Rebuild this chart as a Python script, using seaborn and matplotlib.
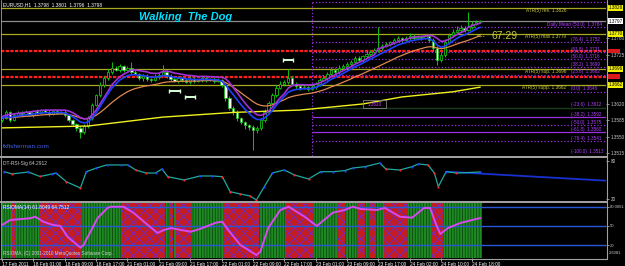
import numpy as np
import pandas as pd
import matplotlib
matplotlib.use("Agg")
import matplotlib.pyplot as plt
import seaborn as sns
from matplotlib.patches import Rectangle

sns.set_theme(style="dark", rc={"axes.facecolor": "black", "figure.facecolor": "black"})
plt.rcParams["font.family"] = ["Liberation Sans", "DejaVu Sans"]
plt.rcParams["hatch.linewidth"] = 0.6

# ------------------------------------------------------------------ data
closes = [
    1.3590, 1.3603, 1.3586, 1.3597, 1.3601,
    1.3599, 1.3603, 1.3597, 1.3605, 1.3601, 1.3607, 1.3603, 1.3599, 1.3605, 1.3601, 1.3603,
    1.3597, 1.3586, 1.3577,
    1.3569, 1.3560, 1.3573,
    1.3590, 1.3618, 1.3639, 1.3661,
    1.3675, 1.3688, 1.3697, 1.3693, 1.3701, 1.3693, 1.3697, 1.3688,
    1.3684, 1.3675, 1.3680, 1.3673, 1.3671, 1.3678, 1.3682, 1.3688, 1.3680, 1.3673, 1.3669,
    1.3675, 1.3671, 1.3667, 1.3673, 1.3669, 1.3671, 1.3675, 1.3671, 1.3673, 1.3669, 1.3671,
    1.3661, 1.3633, 1.3612,
    1.3603, 1.3590, 1.3582, 1.3575, 1.3571,
    1.3564, 1.3569, 1.3586,
    1.3603, 1.3622, 1.3639, 1.3654, 1.3663,
    1.3667, 1.3675, 1.3663,
    1.3658, 1.3654, 1.3656, 1.3652, 1.3656,
    1.3663, 1.3671, 1.3675, 1.3684, 1.3693, 1.3688, 1.3697, 1.3701,
    1.3705, 1.3710, 1.3718, 1.3714, 1.3722, 1.3727, 1.3731, 1.3735, 1.3740,
    1.3744, 1.3748, 1.3752, 1.3757, 1.3761, 1.3757,
    1.3761, 1.3765, 1.3761, 1.3763, 1.3761, 1.3765,
    1.3757, 1.3740, 1.3714,
    1.3725, 1.3752, 1.3767,
    1.3774, 1.3778, 1.3782, 1.3778, 1.3784,
    1.3791, 1.3795, 1.3797,
]
first_open = 1.3586
# wick lengths in pips (0.0001)
wick_up = [3, 4, 2, 3, 5, 3, 4, 2, 3, 4,
           3, 2, 4, 3, 2, 3, 4, 2, 3, 2,
           3, 4, 5, 4, 3, 5, 4, 6, 13, 4,
           5, 3, 4, 13, 4, 3, 5, 4, 3, 6,
           4, 15, 5, 3, 4, 5, 3, 4, 6, 4,
           3, 5, 4, 3, 4, 5, 3, 4, 5, 3,
           4, 3, 2, 3, 4, 5, 4, 6, 5, 4,
           6, 5, 4, 20, 4, 3, 5, 4, 3, 6,
           4, 5, 6, 4, 5, 3, 6, 4, 5, 4,
           5, 4, 3, 6, 4, 5, 44, 4, 5, 3,
           4, 5, 3, 4, 6, 4, 5, 3, 4, 5,
           4, 3, 5, 6, 4, 5, 8, 6, 5, 32,
           6, 5, 3]
wick_dn = [4, 3, 5, 2, 3, 4, 3, 2, 4, 3,
           2, 3, 4, 3, 2, 3, 4, 5, 4, 6,
           13, 5, 4, 5, 3, 4, 5, 3, 4, 3,
           4, 5, 3, 4, 3, 4, 5, 3, 4, 3,
           4, 3, 5, 4, 3, 4, 5, 3, 4, 5,
           3, 4, 5, 3, 4, 3, 4, 6, 5, 7,
           6, 5, 8, 6, 42, 6, 5, 4, 5, 3,
           4, 3, 5, 4, 3, 5, 4, 3, 4, 3,
           5, 4, 3, 4, 5, 3, 4, 5, 3, 4,
           3, 4, 5, 3, 4, 3, 4, 5, 3, 4,
           5, 3, 4, 3, 4, 5, 3, 4, 3, 5,
           6, 11, 5, 4, 3, 4, 3, 4, 5, 3,
           4, 3, 2]

ma200_bars = [0, 22, 41, 59, 76, 92, 102, 115, 122]
ma200_vals = [1.3569, 1.3573, 1.3592, 1.3602, 1.3607, 1.3620, 1.3635, 1.3646, 1.3656]

fractal_bars = [44, 48, 73]
fractal_prices = [1.3648, 1.3635, 1.3714]

olive_levels = [1.3825, 1.3770, 1.3695, 1.3661]
olive_labels = ["ATR(5) res. 1.3826", "ATR(5) max 1.3770", "ATR(5) sup. 1.3696", "ATR(5) supp. 1.3662"]
olive_boxes = ["1.3826", "1.3770", "1.3696", "1.3662"]
red_levels = [1.3733, 1.3678]
current_price = 1.3797

day_start_bar = 79
daily_mean_price = 1.3784
daily_mean_label = "Daily Mean (50.0)  1.3784"
fib_prices = [1.3838, 1.3752, 1.3731, 1.3716, 1.3699, 1.3682, 1.3646, 1.3592, 1.3575, 1.3560, 1.3541]
fib_styles = [":", ":", ":", ":", ":", ":", ":", "-", ":", "-", ":"]
fib_labels = ["", "(76.4)  1.3752", "(61.8)  1.3731", "(50.0)  1.3716",
              "(38.2)  1.3699", "(23.6)  1.3682", "(0.0)  1.3646", "(-38.2)  1.3592",
              "(-50.0)  1.3575", "(-61.8)  1.3560", "(-76.4)  1.3541"]
extra_fib_prices = [1.3612, 1.3513]
extra_fib_labels = ["(-23.6)  1.3612", "(-100.0)  1.3513"]

price_ticks = [1.3515, 1.3550, 1.3585, 1.3620, 1.3725, 1.3760]

rsi_bars = [0.5, 2.6, 6.7, 9.7, 12.8, 13.8, 16.4, 20.0, 21.5, 24.1, 26.7, 30.3, 32.1, 34.1,
            36.7, 39.2, 40.8, 42.3, 46.4, 50.5, 53.6, 56.2, 58.2, 60.8, 63.3, 64.9, 66.9,
            69.0, 72.0, 74.6, 78.2, 81.3, 84.4, 87.4, 89.5, 92.6, 96.4, 97.9, 101.5,
            104.6, 106.2, 108.7, 110.3, 111.3, 113.3, 115.9, 122.0]
rsi_vals = [63.1, 59.5, 62.6, 55.5, 59.5, 61.0, 47.3, 37.3, 63.1, 68.9, 73.7, 73.7, 73.7, 65.8,
            61.0, 61.0, 67.4, 55.2, 50.0, 56.3, 56.3, 55.2, 31.5, 27.9, 24.7, 18.4, 39.4,
            61.0, 65.8, 57.9, 51.6, 63.1, 63.1, 64.7, 68.9, 71.0, 76.8, 67.4, 65.8,
            71.0, 75.3, 73.7, 61.0, 39.4, 63.1, 61.0, 62.6]
rsi_proj_bars = [113.3, 154.1]
rsi_proj_vals = [63.1, 48.9]

# trend state runs (alternating, starting green)
hist_run_lengths = [3, 1, 6, 11, 10, 11, 1, 1, 1, 4, 8, 9, 7, 7, 6, 2, 3, 2, 1, 2, 2, 6, 6, 3, 10]

osc_bars = [0.0, 2.1, 7.2, 8.5, 10.5, 13.1, 14.9, 16.7, 20.0, 20.8, 24.4, 26.9, 27.7, 31.0,
            33.6, 37.2, 39.7, 41.3, 43.1, 45.6, 48.2, 50.5, 54.6, 56.2, 57.7, 60.8, 64.9,
            65.9, 67.9, 71.0, 73.1, 77.2, 80.3, 84.4, 87.4, 89.5, 91.5, 95.6, 97.7, 101.5,
            104.6, 107.7, 109.2, 110.8, 111.8, 113.8, 116.9, 122.0]
osc_vals = [51.5, 59.2, 61.9, 64.3, 56.6, 51.5, 50.0, 33.5, 16.6, 20.7, 62.3, 77.7, 79.7, 79.7,
            70.0, 51.5, 39.2, 43.8, 46.9, 43.8, 41.2, 45.4, 55.1, 56.6, 43.8, 20.7, 5.3,
            10.4, 46.9, 74.6, 79.7, 64.3, 50.0, 70.5, 74.6, 79.7, 76.2, 74.6, 77.7, 64.3,
            62.8, 77.7, 77.7, 51.5, 37.7, 46.9, 54.6, 62.3]
osc_levels = [20, 50, 80]
osc_level_labels = ["20", "50", "80.0061"]

tick_bars = [0, 8, 16, 24, 32, 40, 48, 56, 64, 72, 80, 88, 96, 104, 112, 120]
tick_labels = ["17 Feb 2011", "18 Feb 01:00", "18 Feb 09:00", "18 Feb 17:00", "21 Feb 01:00",
               "21 Feb 09:00", "21 Feb 17:00", "22 Feb 01:00", "22 Feb 09:00", "22 Feb 17:00",
               "23 Feb 01:00", "23 Feb 09:00", "23 Feb 17:00", "24 Feb 02:00", "24 Feb 10:00",
               "24 Feb 18:00"]

assert len(closes) == len(wick_up) == len(wick_dn) == sum(hist_run_lengths)

# ------------------------------------------------------------------ layout
W, H = 625, 266
fig = plt.figure(figsize=(W / 100, H / 100), dpi=100)
fig.patch.set_facecolor("black")


def px_axes(x0, y0, x1, y1):
    a = fig.add_axes([x0 / W, 1 - y1 / H, (x1 - x0) / W, (y1 - y0) / H])
    a.set_facecolor("black")
    for s in a.spines.values():
        s.set_visible(False)
    a.grid(False)
    return a


ax = px_axes(1, 1, 606, 156)
ax_r = px_axes(1, 158, 606, 201)
ax_h = px_axes(1, 203, 606, 258)

PX = 3.92
XMIN, XMAX = (1 - 2) / PX, (606 - 2) / PX
for a in (ax, ax_r, ax_h):
    a.set_xlim(XMIN, XMAX)
    a.yaxis.tick_right()
    a.tick_params(axis="y", colors="#c8c8c8", labelsize=3.3, length=2, width=0.5, pad=1.5)
    a.tick_params(axis="x", bottom=False, labelbottom=False)

# ------------------------------------------------------------------ main panel
c = np.array(closes)
o = np.array([first_open] + closes[:-1])
hi = np.maximum(o, c) + np.array(wick_up) * 0.0001
lo = np.minimum(o, c) - np.array(wick_dn) * 0.0001
x = np.arange(len(c))

ax.set_ylim(1.35090, 1.38398)
ax.set_yticks(price_ticks)
ax.set_yticklabels([f"{p:.4f}" for p in price_ticks])

# horizontal levels
for p in olive_levels:
    ax.axhline(p, color="#a8a820", lw=0.9, zorder=1)
for p in red_levels:
    ax.axhline(p, color="#ff2020", lw=1.6, ls=(0, (1.5, 0.6)), zorder=1)
ax.axhline(current_price, color="#8c8c8c", lw=0.9, zorder=1)
ax.hlines(extra_fib_prices[0], day_start_bar, XMAX, color="#1c3a1c", lw=1.0, zorder=1)
ax.hlines(daily_mean_price, day_start_bar, XMAX, color="#9a30e0", lw=0.9, ls=":", zorder=1)
for p, st in zip(fib_prices, fib_styles):
    ax.hlines(p, day_start_bar, XMAX, color="#9a30e0", lw=0.9, ls=st, zorder=1)
ax.vlines(day_start_bar, 1.3509, 1.3840, color="#9a30e0", lw=0.9, ls=":", zorder=1)

# candles
ax.vlines(x, lo, hi, color="#10c010", lw=0.7, zorder=2)
bull = c >= o
ax.bar(x[bull], (c - o)[bull], bottom=o[bull], width=0.6, color="black",
       edgecolor="#10c010", linewidth=0.6, zorder=3)
ax.bar(x[~bull], (o - c)[~bull], bottom=c[~bull], width=0.6, color="white",
       edgecolor="#10c010", linewidth=0.5, zorder=3)

# moving averages
ema_fast = pd.Series(c).ewm(span=8, adjust=False).mean()
ema_hi = pd.Series(hi).ewm(span=8, adjust=False).mean()
ema_slow = pd.Series(c).ewm(span=21, adjust=False).mean()
sns.lineplot(x=ma200_bars, y=ma200_vals, ax=ax, color="#f0f020", lw=1.0, zorder=4)
sns.lineplot(x=x, y=ema_slow.values, ax=ax, color="#e08850", lw=0.9, zorder=4)
sns.lineplot(x=x, y=ema_hi.values, ax=ax, color="#a030d8", lw=1.2, zorder=4)
sns.lineplot(x=x, y=ema_fast.values, ax=ax, color="#2040ff", lw=1.2, zorder=5)

ax.errorbar(fractal_bars, fractal_prices, xerr=1.3, fmt="none", ecolor="#d8ffd8",
            elinewidth=1.4, capsize=1.5, capthick=1.0, zorder=6)

# right-side level labels
OLIVE_END = (566 - 2) / PX
FIB_START = (571 - 2) / PX
for p, t in zip(olive_levels, olive_labels):
    ax.text(OLIVE_END, p - 0.0001, t, ha="right", va="top", fontsize=3.4, color="#c8c840", zorder=7)
ax.text(153, daily_mean_price + 0.0001, daily_mean_label, ha="right", va="bottom", fontsize=3.4,
        color="#b040ff", zorder=7)
for p, t in zip(fib_prices + extra_fib_prices, fib_labels + extra_fib_labels):
    if t:
        ax.text(FIB_START, p + 0.0001, t, ha="left", va="bottom", fontsize=3.3, color="#b040ff", zorder=7)

ytr = ax.get_yaxis_transform()
for p, t in zip(olive_levels, olive_boxes):
    ax.text(1.004, p, t, transform=ytr, ha="left", va="center", fontsize=3.3, color="black",
            bbox=dict(boxstyle="square,pad=0.15", fc="#f0f000", ec="none"), clip_on=False, zorder=8)
for p in red_levels:
    ax.text(1.004, p, "  ......  ", transform=ytr, ha="left", va="center", fontsize=3.0, color="#4040ff",
            bbox=dict(boxstyle="square,pad=0.1", fc="#e01818", ec="none"), clip_on=False, zorder=8)
ax.text(1.004, current_price, f"{current_price:.4f}", transform=ytr, ha="left", va="center",
        fontsize=3.3, color="black", bbox=dict(boxstyle="square,pad=0.15", fc="white", ec="none"),
        clip_on=False, zorder=8)

# ------------------------------------------------------------------ RSI panel
ax_r.set_ylim(16.8, 84.7)
ax_r.set_yticks([20, 80])
sns.lineplot(x=rsi_proj_bars, y=rsi_proj_vals, ax=ax_r, color="#1830d0", lw=1.3, zorder=2)
sns.lineplot(x=rsi_bars, y=rsi_vals, ax=ax_r, color="#20a8a0", lw=0.9, zorder=3)
rv = np.array(rsi_vals)
up = np.r_[True, np.diff(rv) >= 0]
ax_r.scatter(np.array(rsi_bars)[up], rv[up], s=2.5, color="#2040ff", zorder=4, linewidths=0)
ax_r.scatter(np.array(rsi_bars)[~up], rv[~up], s=2.5, color="#ff2020", zorder=4, linewidths=0)

# ------------------------------------------------------------------ histogram panel
ax_h.set_ylim(0.7, 85.4)
state = []
for k, n in enumerate(hist_run_lengths):
    state += ["G" if k % 2 == 0 else "R"] * n
state = np.array(state)
ax_h.bar(x[state == "G"], 85.4, width=1.0, color="#1f8a24", edgecolor="#0a4a0e",
         linewidth=0, hatch="||||||", zorder=1)
ax_h.bar(x[state == "R"], 85.4, width=1.0, color="#c41c20", edgecolor="#6a2ad0",
         linewidth=0, hatch="xxx", zorder=1)
for lv in osc_levels:
    ax_h.axhline(lv, color="#2858d8", lw=1.0, zorder=2)
sns.lineplot(x=osc_bars, y=osc_vals, ax=ax_h, color="#d848f0", lw=1.4, zorder=3)
ax_h.set_yticks(osc_levels)
ax_h.set_yticklabels(osc_level_labels)
ax_h.tick_params(axis="y", labelsize=3.0, pad=1.0)
ax_h.set_xticks(tick_bars)
ax_h.set_xticklabels(tick_labels, ha="left")
ax_h.tick_params(axis="x", bottom=True, labelbottom=True, colors="white", labelsize=3.4,
                 length=2, width=0.5, pad=0.8, direction="out")

# ------------------------------------------------------------------ overlay (frame and captions)
ov = fig.add_axes([0, 0, 1, 1])
ov.set_xlim(0, W)
ov.set_ylim(H, 0)
ov.axis("off")
ov.patch.set_alpha(0)
ov.set_zorder(10)
for y0 in (156, 201):
    ov.add_patch(Rectangle((0, y0), 606.5, 2, color="#a0a0a0", lw=0))
ov.plot([606.5, 606.5], [0, 258.5], color="#a0a0a0", lw=0.8)
ov.plot([0, 606.5], [258.5, 258.5], color="#a0a0a0", lw=0.8)
ov.plot([0.5, 0.5], [0, 258.5], color="#a0a0a0", lw=0.6)

ov.text(3, 5, "EURUSD,H1  1.3798  1.3801  1.3796  1.3798", fontsize=3.5, color="white", va="center")
ov.text(186, 17, "Walking  The Dog", fontsize=8, color="#00e0ff", weight="bold", style="italic",
        ha="center", va="center")
ov.text(477, 36, "<--", fontsize=5, color="#c8c83c", va="center")
ov.text(492, 36, "67:29", fontsize=7.5, color="#c8c83c", va="center")
ov.add_patch(Rectangle((363, 100), 23, 8, fill=False, ec="#808080", lw=0.6))
ov.text(374.5, 104, "1.3620", fontsize=3.3, color="#d040ff", ha="center", va="center")
ov.text(3, 147, "fxfisherman.com", fontsize=4.6, color="#4060e0", va="center")
ov.text(3, 163, "DT-RSI-Sig 64.2912", fontsize=3.5, color="#c8c8c8", va="center")
ov.text(3, 208, "RSIOMA(14) 61.8049 64.7512", fontsize=3.5, color="white", va="center")
ov.text(3, 254, "RSIOMA, (C) 2001-2010 MetaQuotes Software Corp.", fontsize=3.3, color="#d0d0d0",
        va="center")
ov.text(609, 253, "2.6081", fontsize=3.0, color="#c8c8c8", va="center")

fig.savefig("out.png", dpi=100, facecolor="black")
